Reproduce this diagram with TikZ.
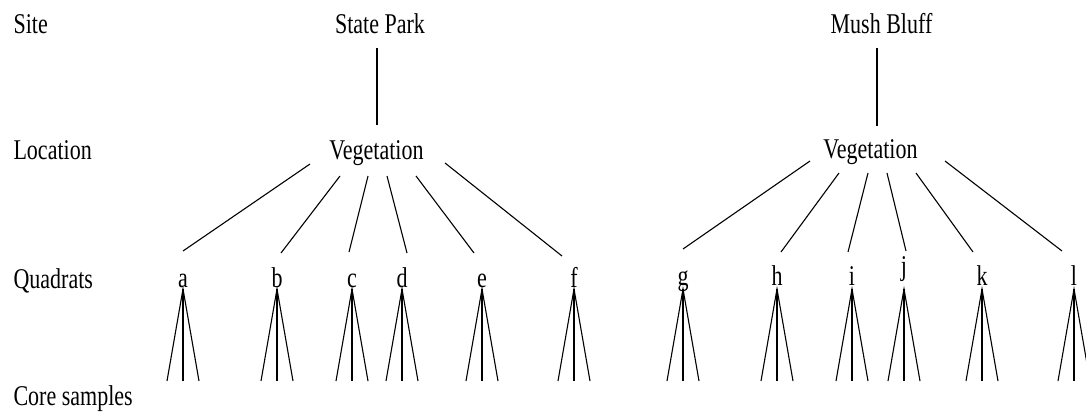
\documentclass[tikz,border=0pt]{standalone}
\usepackage{fontspec}
\setmainfont{Liberation Serif}
\usepackage{graphicx}
% tall, narrow lettering
\newcommand\tall[1]{\scalebox{1}[1.3]{#1}}
\begin{document}
\begin{tikzpicture}[x=1pt,y=-1pt,line width=1.1pt,
  lbl/.style={inner sep=0pt,anchor=base west,font=\fontsize{22}{26}\selectfont},
  txt/.style={inner sep=0pt,anchor=base,font=\fontsize{22}{26}\selectfont},
  link/.style={line width=1.1pt}]
\useasboundingbox (0,0) rectangle (1086,417);
\clip (0,0) rectangle (1086,417);

% level names
\node[lbl] (lsite) at (13,34)  {\tall{Site}};
\node[lbl] (lloc)  at (13,159) {\tall{Location}};
\node[lbl] (lquad) at (13,288) {\tall{Quadrats}};
\node[lbl] (lcore) at (13,405) {\tall{Core samples}};

% sites and locations
\node[txt] (site1) at (380,34)  {\tall{State Park}};
\node[txt] (veg1)  at (376.5,159) {\tall{Vegetation}};
\node[txt] (site2) at (881.5,34)  {\tall{Mush Bluff}};
\node[txt] (veg2)  at (870.5,158) {\tall{Vegetation}};

\coordinate (site1-b) at (377,48);  \coordinate (veg1-t) at (377,125);
\coordinate (site2-b) at (877,48);  \coordinate (veg2-t) at (877,126);
\draw[link] (site1-b) -- (veg1-t);
\draw[link] (site2-b) -- (veg2-t);

% quadrats with their core samples
\foreach \n/\x/\y in {a/183/287, b/277/287, c/352/287, d/402/287, e/482/287, f/574/287,
                      g/683/285, h/777/285, i/852/285, j/904/275, k/982/285, l/1074/285} {
  \node[txt] (q\n) at (\x,\y) {\tall{\n}};
  \coordinate (q\n-apex) at (\x,289);
  \coordinate (q\n-s1) at (\x-16,381);
  \coordinate (q\n-s2) at (\x,381);
  \coordinate (q\n-s3) at (\x+16,381);
  \draw[link] (q\n-s1) -- (q\n-apex) -- (q\n-s3);
  \draw[link] (q\n-apex) -- (q\n-s2);
}

% location to quadrat connectors
\foreach \n/\xa/\ya/\xb/\yb in {a/310/164/183/251, b/340/176/281/253, c/368/176/349/252,
                                d/387/176/407/253, e/416/176/474/253, f/445/163/562/256,
                                g/810/161/683/249, h/839/173/781/252, i/868/173/848/252,
                                j/887/173/906/251, k/916/173/973/252, l/945/161/1062/251} {
  \coordinate (from-\n) at (\xa,\ya);
  \coordinate (to-\n) at (\xb,\yb);
  \draw[link] (from-\n) -- (to-\n);
}
\end{tikzpicture}
\end{document}
